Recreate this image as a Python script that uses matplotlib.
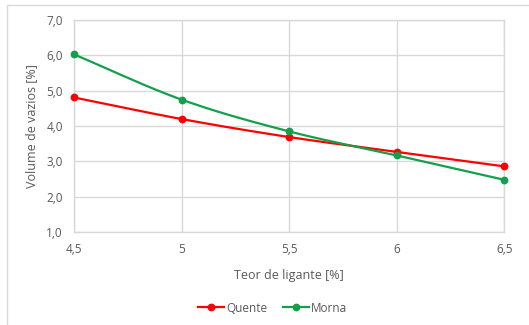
import numpy as np
import matplotlib
matplotlib.use("Agg")
import matplotlib.pyplot as plt
from matplotlib.lines import Line2D
from matplotlib.patches import Rectangle

teor = [4.5, 5.0, 5.5, 6.0, 6.5]
quente = [4.81, 4.20, 3.69, 3.27, 2.86]
morna = [6.03, 4.75, 3.85, 3.17, 2.48]
x_ticks = ["4,5", "5", "5,5", "6", "6,5"]
y_ticks = ["1,0", "2,0", "3,0", "4,0", "5,0", "6,0", "7,0"]

RED = "#FF0000"
GREEN = "#12A04A"
GRID = "#D9D9D9"
TXT = "#595959"


def smooth(xs, ys, n=40):
    # Catmull-Rom curve through the points, like spreadsheet smoothed lines
    xs = np.asarray(xs, float)
    ys = np.asarray(ys, float)
    px = np.concatenate([[2 * xs[0] - xs[1]], xs, [2 * xs[-1] - xs[-2]]])
    py = np.concatenate([[2 * ys[0] - ys[1]], ys, [2 * ys[-1] - ys[-2]]])
    out_x, out_y = [], []
    t = np.linspace(0, 1, n)
    for i in range(1, len(px) - 2):
        for p, out in ((px, out_x), (py, out_y)):
            p0, p1, p2, p3 = p[i - 1], p[i], p[i + 1], p[i + 2]
            out.extend(0.5 * (2 * p1 + (-p0 + p2) * t
                              + (2 * p0 - 5 * p1 + 4 * p2 - p3) * t ** 2
                              + (-p0 + 3 * p1 - 3 * p2 + p3) * t ** 3))
    return out_x, out_y


plt.rcParams['font.family'] = ['Open Sans', 'DejaVu Sans']

fig = plt.figure(figsize=(5.29, 3.25), dpi=100)
fig.patches.append(Rectangle((6.5 / 529, -0.1), 1.1, 1.085, transform=fig.transFigure,
                             fill=False, edgecolor="#D9D9D9", linewidth=1.0))
ax = fig.add_axes([0.140, 0.286, 0.813, 0.652])

for ys, col in ((quente, RED), (morna, GREEN)):
    sx, sy = smooth(teor, ys)
    ax.plot(sx, sy, color=col, linewidth=1.6, zorder=3)
    ax.plot(teor, ys, linestyle="none", marker="o", markersize=4.6,
            color=col, zorder=4, clip_on=False)

ax.set_xlim(4.5, 6.5)
ax.set_ylim(1, 7)
ax.set_xticks(teor)
ax.set_xticklabels(x_ticks)
ax.set_yticks(np.arange(1, 8))
ax.set_yticklabels(y_ticks)
ax.grid(True, color=GRID, linewidth=1.0)
ax.set_axisbelow(True)
for s in ax.spines.values():
    s.set_color(GRID)
    s.set_linewidth(1.0)
ax.tick_params(length=0, labelsize=8.5, labelcolor=TXT, pad=8)

ax.set_xlabel("Teor de ligante [%]", fontsize=9, color=TXT, labelpad=9)
ax.set_ylabel("Volume de vazios [%]", fontsize=9, color=TXT, labelpad=6)

handles = [Line2D([], [], color=RED, linewidth=1.6, marker="o", markersize=4.6),
           Line2D([], [], color=GREEN, linewidth=1.6, marker="o", markersize=4.6)]
fig.legend(handles, ["Quente", "Morna"], loc="center", bbox_to_anchor=(0.515, 0.052),
           ncol=2, frameon=False, fontsize=8.5, handlelength=2.2,
           handletextpad=0.2, columnspacing=1.3, labelcolor=TXT)

fig.savefig("out.png", dpi=100)
